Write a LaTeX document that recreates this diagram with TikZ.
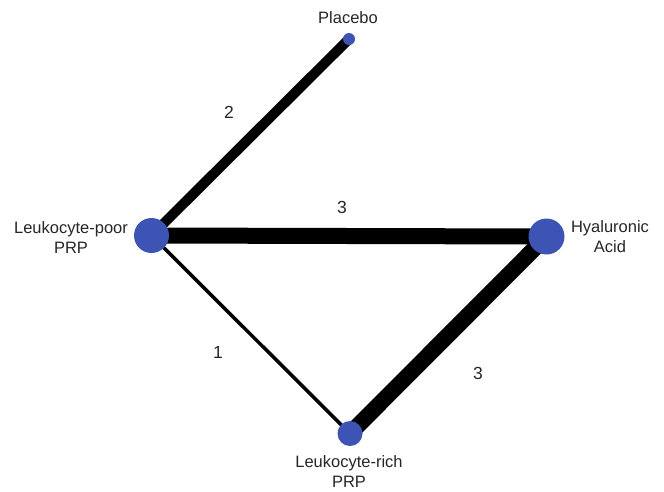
\documentclass[tikz,border=0pt]{standalone}
\usepackage{fontspec}
\setmainfont{Liberation Sans}
\definecolor{nodeblue}{RGB}{62,84,180}
\begin{document}
\begin{tikzpicture}[x=1pt,y=-1pt,
  dot/.style={circle,fill=nodeblue,inner sep=0pt,minimum size=#1},
  lbl/.style={font=\fontsize{16.5}{20}\selectfont,align=center,text=black!85},
  num/.style={font=\fontsize{17.5}{20}\selectfont,text=black!85},
  edge/.style={line width=#1,draw=black}]
\useasboundingbox (0,0) rectangle (664,491);
\coordinate (pl) at (349,39);
\coordinate (lp) at (151.5,235.5);
\coordinate (ha) at (546.5,236.5);
\coordinate (lr) at (350,433.5);
\draw[edge=10pt] (lp) -- (pl);
\draw[edge=16pt] (lp) -- (ha);
\draw[edge=3.5pt] (lp) -- (lr);
\draw[edge=16pt] (lr) -- (ha);
\node[dot=12pt] (npl) at (pl) {};
\node[dot=35pt] (nlp) at (lp) {};
\node[dot=36pt] (nha) at (ha) {};
\node[dot=25pt] (nlr) at (lr) {};
\node[lbl] (tpl) at (348,18) {Placebo};
\node[lbl] (tlp) at (71,238) {Leukocyte-poor\\PRP};
\node[lbl] (tha) at (610,237) {Hyaluronic\\Acid};
\node[lbl] (tlr) at (349,472) {Leukocyte-rich\\PRP};
\node[num] (n1) at (229,112) {2};
\node[num] (n2) at (342,207) {3};
\node[num] (n3) at (218,352) {1};
\node[num] (n4) at (478,373) {3};
\end{tikzpicture}
\end{document}
